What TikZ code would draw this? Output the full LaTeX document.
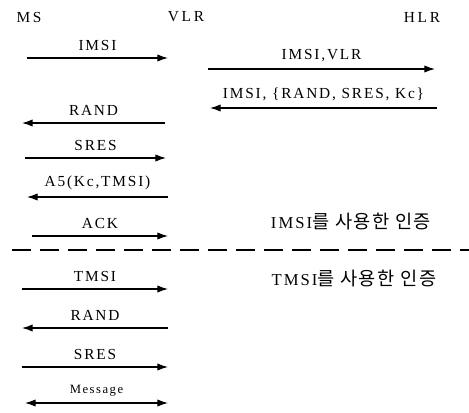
\documentclass[tikz,border=0pt]{standalone}
\usepackage{fontspec}
\setmainfont{Liberation Serif}
\newfontfamily\spaced{Liberation Serif}[LetterSpace=12]
\newfontfamily\wide{Liberation Serif}[LetterSpace=18]
\newfontfamily\krfont{Noto Sans CJK KR}[LetterSpace=8]
\usetikzlibrary{arrows.meta, positioning}

\tikzset{
  msg/.style={line width=0.85pt, >={Latex[length=8pt,width=5.5pt]}},
  lbl/.style={above=5pt, font=\spaced\fontsize{11.5}{12}\selectfont, inner sep=0pt},
  ent/.style={font=\wide\fontsize{11.5}{12}\selectfont, inner sep=0pt},
  phase/.style={font=\spaced\fontsize{12.5}{14}\selectfont, inner sep=0pt}
}

\begin{document}
\begin{tikzpicture}[x=0.75pt, y=-0.75pt]
  \useasboundingbox (0,0) rectangle (469,412);
  % entities
  \node[ent] (ms) at (29,17) {MS};
  \node[ent] (vlr) at (186,17) {VLR};
  \node[ent] (hlr) at (422,17) {HLR};
  % messages
  \foreach \n/\y/\l/\r/\d/\t in {a/58/27/168/->/IMSI, b/69/208/435/->/{IMSI,VLR}, c/108/210/437/<-/{IMSI, \{RAND, SRES, Kc\}}, d/123/22/165/<-/RAND, e/158/25/166/->/SRES, f/197/27/168/<-/{A5(Kc,TMSI)}, g/236/32/168/->/ACK, h/289/22/168/->/TMSI, i/328/22/168/<-/RAND, j/367/22/168/->/SRES, k/403/25/168/<->/{\fontsize{9.5}{10}\selectfont Message}} {
    \coordinate (l\n) at (\l,\y);
    \coordinate (r\n) at (\r,\y);
    \draw[msg, \d] (l\n) -- node[lbl] {\t} (r\n);
  }
  % phases
  \coordinate (sepl) at (12,250);
  \coordinate (sepr) at (469,250);
  \draw[line width=1.8pt, dash pattern=on 14pt off 7pt] (sepl) -- (sepr);
  \node[phase] (imsiauth) at (351,222) {IMSI{\krfont\fontsize{14}{14}\selectfont 를 사용한 인증}};
  \node[phase] (tmsiauth) at (354,279) {TMSI{\krfont\fontsize{14}{14}\selectfont 를 사용한 인증}};
\end{tikzpicture}
\end{document}
